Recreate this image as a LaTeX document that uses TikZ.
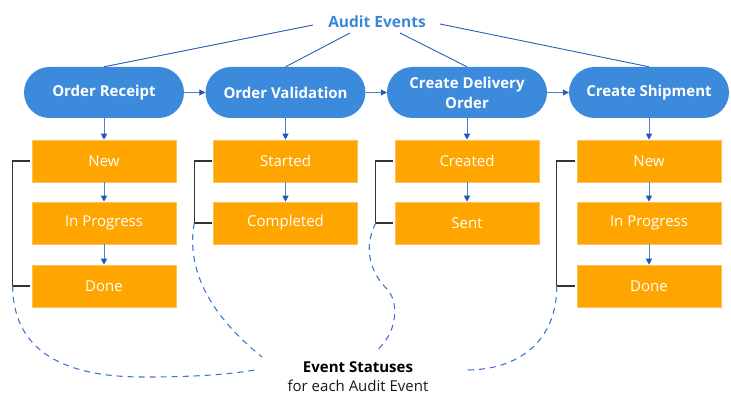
\documentclass[tikz,border=0pt]{standalone}
\usepackage{fontspec}
\setmainfont{Open Sans}
\usetikzlibrary{arrows.meta,calc}
\definecolor{pillblue}{HTML}{3C8ADB}
\definecolor{titleblue}{HTML}{3A87D8}
\definecolor{linkblue}{HTML}{2A5DB5}
\definecolor{arrblue}{HTML}{4A80D0}
\definecolor{headblue}{HTML}{1F55BF}
\definecolor{boxorange}{HTML}{FFA500}
\definecolor{boxedge}{HTML}{FFC25A}
\definecolor{brk}{HTML}{333333}
\definecolor{curveblue}{HTML}{3F78CC}
\begin{document}
\begin{tikzpicture}[x=1pt,y=-1pt,
  pill/.style={fill=pillblue, draw=none, minimum width=160pt, minimum height=51pt,
    rounded corners=25.5pt, text=white, font=\fontsize{15}{20}\selectfont\bfseries, align=center, inner sep=0pt},
  stbox/.style={fill=boxorange, draw=boxedge, line width=0.6pt, minimum width=144pt, minimum height=42pt,
    text=white, font=\fontsize{15}{18}\selectfont, inner sep=0pt},
  arr/.style={draw=arrblue, line width=0.9pt, -{Triangle[length=6pt,width=6pt,fill=headblue,color=headblue]}},
  link/.style={draw=linkblue, line width=0.9pt},
  bracket/.style={draw=brk, line width=1.1pt},
  dashcurve/.style={draw=curveblue, line width=1.1pt, dash pattern=on 6pt off 5pt}]
\useasboundingbox (0,0) rectangle (731,406);

% title
\node[text=titleblue, font=\fontsize{15.5}{18}\selectfont\bfseries, inner sep=0pt] (audit) at (377,22) {Audit Events};

% pills
\node[pill] (p1) at (104,92.5) {Order Receipt};
\node[pill] (p2) at (285.5,92.5) {Order Validation};
\node[pill] (p3) at (467,92.5) {Create Delivery\\Order};
\node[pill] (p4) at (649,92.5) {Create Shipment};

% links from title
\coordinate (a1) at ($(audit.center)+(-64,3)$);
\coordinate (a2) at ($(audit.center)+(-27,11)$);
\coordinate (a3) at ($(audit.center)+(23,11)$);
\coordinate (a4) at ($(audit.center)+(63,2)$);
\draw[link] (a1) -- (p1.north);
\draw[link] (a2) -- (p2.north);
\draw[link] (a3) -- (p3.north);
\draw[link] (a4) -- (p4.north);

% arrows between pills
\draw[arr] (p1) -- (p2);
\draw[arr] (p2) -- (p3);
\draw[arr] (p3) -- (p4);

% status boxes
\node[stbox] (b11) at (104,161) {New};
\node[stbox] (b12) at (104,223) {In Progress};
\node[stbox] (b13) at (104,286) {Done};
\node[stbox] (b21) at (285.5,161) {Started};
\node[stbox] (b22) at (285.5,223) {Completed};
\node[stbox] (b31) at (467,161) {Created};
\node[stbox] (b32) at (467,223) {Sent};
\node[stbox] (b41) at (649,161) {New};
\node[stbox] (b42) at (649,223) {In Progress};
\node[stbox] (b43) at (649,286) {Done};

% vertical arrows
\draw[arr] (p1) -- (b11);
\draw[arr] (b11) -- (b12);
\draw[arr] (b12) -- (b13);
\draw[arr] (p2) -- (b21);
\draw[arr] (b21) -- (b22);
\draw[arr] (p3) -- (b31);
\draw[arr] (b31) -- (b32);
\draw[arr] (p4) -- (b41);
\draw[arr] (b41) -- (b42);
\draw[arr] (b42) -- (b43);

% brackets
\coordinate (k1) at ($(b13.west)+(-19,0)$);
\coordinate (k2) at ($(b22.west)+(-19,0)$);
\coordinate (k3) at ($(b32.west)+(-19,0)$);
\coordinate (k4) at ($(b43.west)+(-20,0)$);
\draw[bracket] ([xshift=-1.5pt]b11.west) -| (k1) -- ([xshift=-1.5pt]b13.west);
\draw[bracket] ([xshift=-1.5pt]b21.west) -| (k2) -- ([xshift=-1.5pt]b22.west);
\draw[bracket] ([xshift=-1.5pt]b31.west) -| (k3) -- ([xshift=-1.5pt]b32.west);
\draw[bracket] ([xshift=-1.5pt]b41.west) -| (k4) -- ([xshift=-1.5pt]b43.west);

% caption
\node[font=\fontsize{15}{18}\selectfont\bfseries, inner sep=0pt] (cap1) at (358,367) {Event Statuses};
\node[font=\fontsize{15}{18}\selectfont, inner sep=0pt, text=black!90] (cap2) at (358,386) {for each Audit Event};
\coordinate (e1) at (255,370);
\coordinate (e2) at (262,357);
\coordinate (e3) at (376,351);
\coordinate (e4) at (466,370);

% dashed curves
\draw[dashcurve] (k1) .. controls (13,345) and (55,377) .. (143,377) .. controls (200,377) and (230,374) .. (e1);
\draw[dashcurve] (k2) .. controls (186,270) and (210,315) .. (e2);
\draw[dashcurve] (k3) .. controls (362,250) and (372,275) .. (388,290) .. controls (400,305) and (396,335) .. (e3);
\draw[dashcurve] (k4) .. controls (557,340) and (520,370) .. (e4);
\end{tikzpicture}
\end{document}
